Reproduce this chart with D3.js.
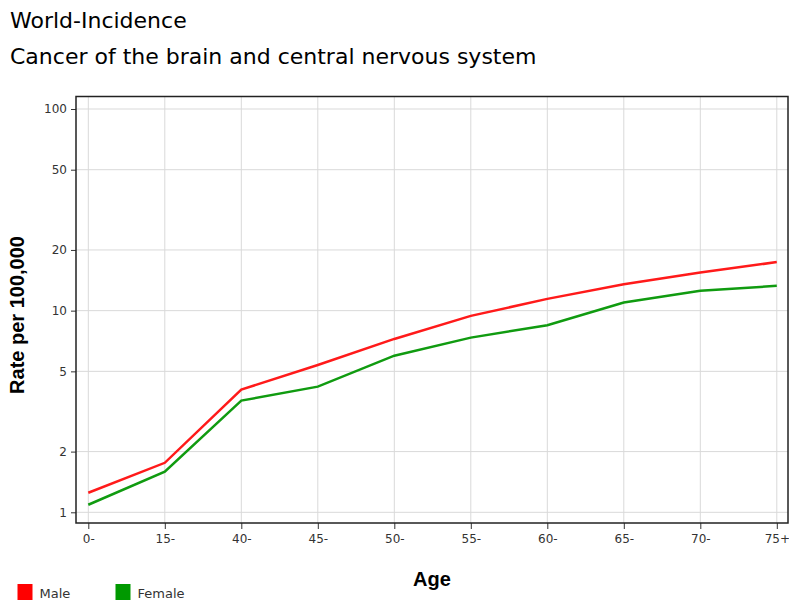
<!DOCTYPE html>
<html><head><meta charset="utf-8">
<script src="https://cdn.jsdelivr.net/npm/d3@7"></script>
<style>body{margin:0;background:#fff}svg{display:block}</style>
</head><body>
<svg id="c" width="789" height="600"></svg>
<script>
const categories = ["0-","15-","40-","45-","50-","55-","60-","65-","70-","75+"];
const maleValues = [1.25,1.76,4.06,5.38,7.24,9.42,11.44,13.53,15.45,17.41];
const femaleValues = [1.09,1.59,3.58,4.2,5.98,7.35,8.47,10.97,12.54,13.28];
const yTicks = [1,2,5,10,20,50,100];
const seriesNames = ["Male","Female"];
const seriesColors = ["#ff1a1a","#109b10"];
const legendColors = ["#ff0000","#009900"];

const svg = d3.select("#c");
const frame = {left:76, right:788, top:96.5, bottom:523};
const x = d3.scalePoint().domain(categories).range([88.3, 776.8]);
const y = d3.scaleLog().domain([1,100]).range([512.3,109]);

// titles
svg.append("text").attr("x",10).attr("y",28).attr("font-family","DejaVu Sans").attr("font-size",22).attr("fill","#000").text("World-Incidence");
svg.append("text").attr("x",10).attr("y",64).attr("font-family","DejaVu Sans").attr("font-size",22).attr("fill","#000").text("Cancer of the brain and central nervous system");

// gridlines
const g = svg.append("g");
g.selectAll(".vg").data(categories).enter().append("line")
  .attr("x1",d=>x(d)).attr("x2",d=>x(d)).attr("y1",frame.top).attr("y2",frame.bottom)
  .attr("stroke","#d9d9d9").attr("stroke-width",1);
g.selectAll(".hg").data(yTicks).enter().append("line")
  .attr("x1",frame.left).attr("x2",frame.right).attr("y1",d=>y(d)).attr("y2",d=>y(d))
  .attr("stroke","#d9d9d9").attr("stroke-width",1);

// axes
const yAxis = d3.axisLeft(y).tickValues(yTicks).tickFormat(d3.format("d")).tickSize(5).tickPadding(4);
const ya = svg.append("g").attr("transform",`translate(${frame.left},0)`).call(yAxis);
ya.select(".domain").remove();
ya.selectAll("text").attr("font-family","DejaVu Sans").attr("font-size",12).attr("fill","#333");
ya.selectAll("line").attr("stroke","#333");

const xAxis = d3.axisBottom(x).tickSize(6).tickPadding(5);
const xa = svg.append("g").attr("transform",`translate(0,${frame.bottom})`).call(xAxis);
xa.select(".domain").remove();
xa.selectAll("text").attr("font-family","DejaVu Sans").attr("font-size",12).attr("fill","#333");
xa.selectAll("line").attr("stroke","#333");

// lines
const line = d3.line().x((d,i)=>x(categories[i])).y(d=>y(d));
[maleValues, femaleValues].forEach((vals,k)=>{
  svg.append("path").datum(vals).attr("d",line).attr("fill","none")
    .attr("stroke",seriesColors[k]).attr("stroke-width",2.5);
});

// frame
svg.append("rect").attr("x",frame.left).attr("y",frame.top).attr("width",frame.right-frame.left).attr("height",frame.bottom-frame.top)
  .attr("fill","none").attr("stroke","#222").attr("stroke-width",1.5);

// axis titles
svg.append("text").attr("transform","translate(24,315) rotate(-90)").attr("text-anchor","middle")
  .attr("font-family","Liberation Sans").attr("font-weight","bold").attr("font-size",20).text("Rate per 100,000");
svg.append("text").attr("x",432).attr("y",586).attr("text-anchor","middle")
  .attr("font-family","Liberation Sans").attr("font-weight","bold").attr("font-size",20).text("Age");

// legend
const legX = [17.5,115.5];
seriesNames.forEach((n,k)=>{
  svg.append("rect").attr("x",legX[k]).attr("y",584).attr("width",15).attr("height",16).attr("fill",legendColors[k]);
  svg.append("text").attr("x",legX[k]+22).attr("y",598).attr("font-family","DejaVu Sans").attr("font-size",13).attr("fill","#333").text(n);
});
</script>
</body></html>
